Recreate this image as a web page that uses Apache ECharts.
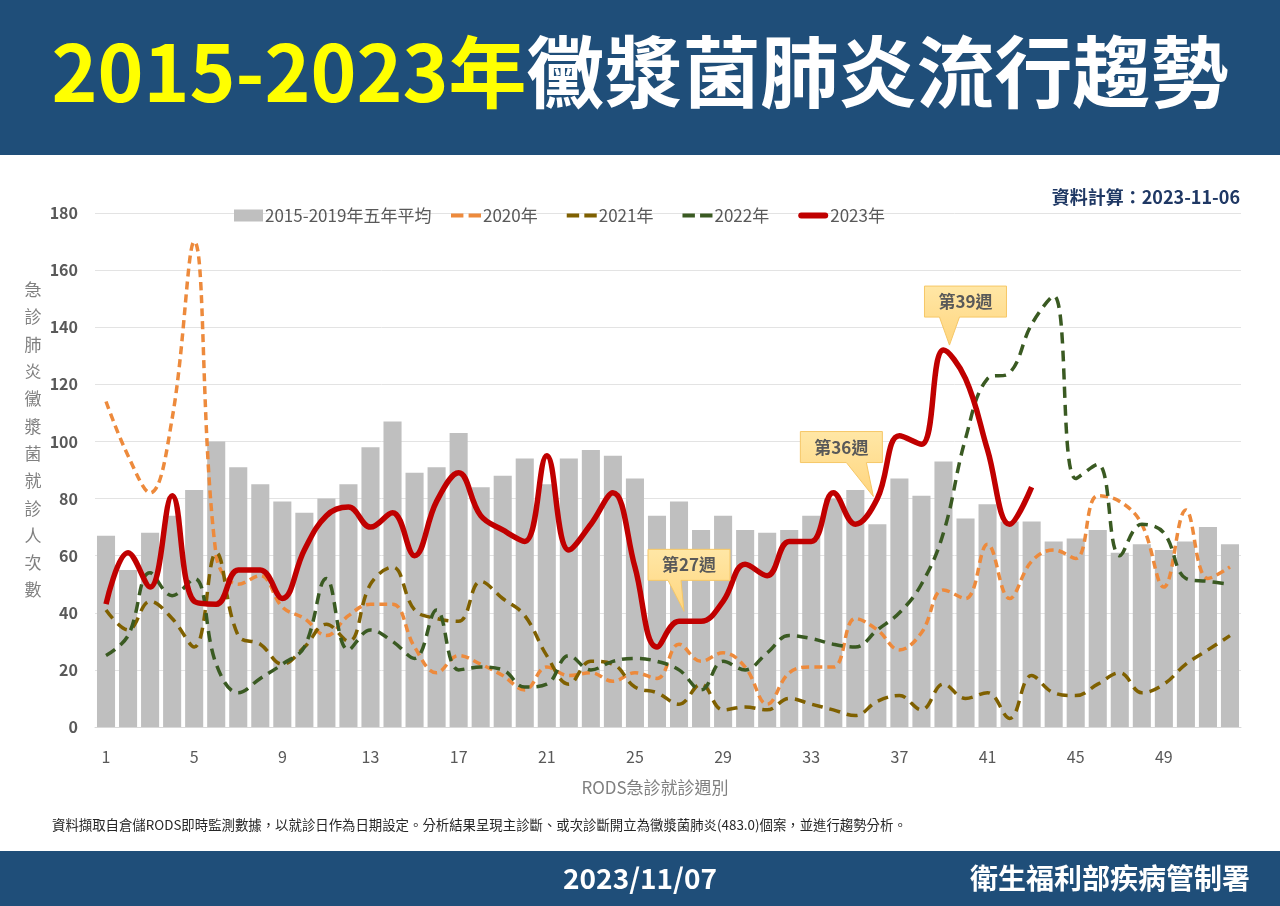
<!DOCTYPE html>
<html>
<head>
<meta charset="utf-8">
<script src="https://cdn.jsdelivr.net/npm/echarts@6/dist/echarts.min.js"></script>
<style>
html,body{margin:0;padding:0;background:#fff;}
#c{width:1280px;height:906px;}
</style>
</head>
<body>
<div id="c"></div>
<script>
// ---- data ----
var weeks = ['1','2','3','4','5','6','7','8','9','10','11','12','13','14','15','16','17','18','19','20','21','22','23','24','25','26','27','28','29','30','31','32','33','34','35','36','37','38','39','40','41','42','43','44','45','46','47','48','49','50','51','52'];
var avg5 = [67,55,68,74,83,100,91,85,79,75,80,85,98,107,89,91,103,84,88,94,85,94,97,95,87,74,79,69,74,69,68,69,74,80,83,71,87,81,93,73,78,72,72,65,66,69,61,64,62,65,70,64];
var y2020 = [114,95,82,108,170,60,50,53,42,38,32,39,43,43,28,19,25,22,18,13,21,18,19,16,19,17,29,23,26,21,8,19,21,21,38,34,27,33,48,45,64,45,58,62,59,81,79,71,49,76,52,56];
var y2021 = [41,34,44,38,28,61,32,29,22,28,36,30,50,56,41,38,37,51,45,39,25,15,23,22,14,12,8,15,6,7,6,10,8,6,4,9,11,6,15,10,12,3,18,12,11,15,19,12,15,22,27,32];
var y2022 = [25,32,54,46,52,22,12,17,22,28,52,27,34,30,24,41,20,21,20,14,15,25,20,23,24,23,20,13,23,20,26,32,31,29,28,34,40,50,68,101,122,124,141,151,87,92,60,71,68,52,51,50];
var y2023 = [43,61,49,81,44,43,55,55,45,62,74,77,70,75,60,79,89,74,69,65,95,62,71,82,56,28,37,37,44,57,53,65,65,82,71,80,102,99,132,122,97,71,84];
var seriesNames = ['2015-2019年五年平均','2020年','2021年','2022年','2023年'];
var yTicks = [0,20,40,60,80,100,120,140,160,180];
var annoWeeks = ['27','36','39'];
var annoLabels = ['第27週','第36週','第39週'];

// ---- style for callouts (pixel offsets, not data) ----
var annoStyle = [
  {dx:5, dy:-10, boxLeft:-36, boxW:82, boxH:31, gap:31, baseL:-16, baseR:-3},
  {dx:-4, dy:-2, boxLeft:-73, boxW:82, boxH:31, gap:34, baseL:-27, baseR:-7},
  {dx:6, dy:-5, boxLeft:-25, boxW:82, boxH:31, gap:28, baseL:-10, baseR:10}
];

var FONT = '"Noto Sans CJK TC","Noto Sans",sans-serif';
var DASH_ICON = 'path://M0,0H12V4H0Z M17,0H29V4H17Z';
var SOLID_ICON = 'path://M3,0H27A3,3 0 0 1 27,6H3A3,3 0 0 1 3,0Z';
var legendText = {color:'#595959', fontSize:17, fontFamily:FONT, padding:[0,0,0,-3]};

var chart = echarts.init(document.getElementById('c'), null, {renderer:'canvas'});

var option = {
  backgroundColor:'#ffffff',
  animation:false,
  textStyle:{fontFamily:FONT},
  title:{
    left:'center', top:28,
    text:'{y|2015-2023年}{w|黴漿菌肺炎流行趨勢}',
    textStyle:{
      rich:{
        y:{color:'#FFFF00', fontSize:78, fontWeight:'bold', fontFamily:FONT},
        w:{color:'#FFFFFF', fontSize:78, fontWeight:'bold', fontFamily:FONT}
      }
    },
    z:10
  },
  legend:[
    {
      left:229, top:202,
      itemWidth:29, itemHeight:12,
      textStyle:legendText,
      data:[{name:seriesNames[0], icon:'rect'}]
    },
    {
      left:446, top:202,
      itemWidth:30, itemHeight:12, itemGap:29,
      symbolKeepAspect:true,
      textStyle:legendText,
      data:[
        {name:seriesNames[1], icon:DASH_ICON},
        {name:seriesNames[2], icon:DASH_ICON},
        {name:seriesNames[3], icon:DASH_ICON},
        {name:seriesNames[4], icon:SOLID_ICON}
      ]
    }
  ],
  grid:{left:95, right:39, top:213, bottom:179, containLabel:false},
  xAxis:{
    type:'category',
    data:weeks,
    boundaryGap:true,
    name:'RODS急診就診週別',
    nameLocation:'middle',
    nameGap:52,
    nameTextStyle:{color:'#808080', fontSize:17, fontFamily:FONT, padding:[0,26,0,0]},
    axisLine:{show:true, lineStyle:{color:'#D9D9D9'}},
    axisTick:{show:false},
    axisLabel:{interval:3, color:'#595959', fontSize:16, margin:22, fontFamily:FONT},
    splitLine:{show:false}
  },
  yAxis:{
    type:'value',
    min:yTicks[0], max:yTicks[yTicks.length-1], interval:20,
    axisLine:{show:false},
    axisTick:{show:false},
    axisLabel:{color:'#595959', fontSize:16, fontWeight:'bold', margin:17, fontFamily:FONT},
    splitLine:{lineStyle:{color:'#E3E3E3', width:1}}
  },
  series:[
    {name:seriesNames[0], type:'bar', data:avg5, barCategoryGap:'18%', itemStyle:{color:'#BFBFBF'}, z:1},
    {name:seriesNames[1], type:'line', data:y2020, smooth:0.4, symbol:'none',
     lineStyle:{color:'#ED8A3C', width:3.5, type:[8,5]}, itemStyle:{color:'#ED8A3C'}, z:3},
    {name:seriesNames[2], type:'line', data:y2021, smooth:0.4, symbol:'none',
     lineStyle:{color:'#7F6000', width:3.5, type:[11,7]}, itemStyle:{color:'#7F6000'}, z:3},
    {name:seriesNames[3], type:'line', data:y2022, smooth:0.4, symbol:'none',
     lineStyle:{color:'#3A5A22', width:3.5, type:[11,7]}, itemStyle:{color:'#3A5A22'}, z:3},
    {name:seriesNames[4], type:'line', data:y2023, smooth:0.4, symbol:'none',
     lineStyle:{color:'#C00000', width:5.5}, itemStyle:{color:'#C00000'}, z:5}
  ]
};
chart.setOption(option);

// ---- decorative graphics, and callouts placed via the chart's own scales ----
var yName = '急診肺炎黴漿菌就診人次數'.split('').join('\n');
var graphics = [
  {type:'rect', left:0, top:0, shape:{width:1280, height:155}, style:{fill:'#1F4E79'}, z:-1, silent:true},
  {type:'rect', left:0, top:851, shape:{width:1280, height:55}, style:{fill:'#1F4E79'}, z:-1, silent:true},
  {type:'text', x:1240, y:197, style:{text:'資料計算：2023-11-06', fill:'#1F3864', font:'bold 18px '+FONT, textAlign:'right', textVerticalAlign:'middle'}},
  {type:'text', x:33, y:276, style:{text:yName, fill:'#808080', font:'17px '+FONT, lineHeight:27.3, textAlign:'center', textVerticalAlign:'top'}},
  {type:'text', x:52, y:825, style:{text:'資料擷取自倉儲RODS即時監測數據，以就診日作為日期設定。分析結果呈現主診斷、或次診斷開立為黴漿菌肺炎(483.0)個案，並進行趨勢分析。', fill:'#262626', font:'13.4px '+FONT, textAlign:'left', textVerticalAlign:'middle'}},
  {type:'text', x:640, y:878, style:{text:'2023/11/07', fill:'#FFFFFF', font:'bold 28px '+FONT, textAlign:'center', textVerticalAlign:'middle'}},
  {type:'text', x:1250, y:878, style:{text:'衛生福利部疾病管制署', fill:'#FFFFFF', font:'bold 28px '+FONT, textAlign:'right', textVerticalAlign:'middle'}}
];

for (var i = 0; i < annoWeeks.length; i++) {
  var idx = weeks.indexOf(annoWeeks[i]);
  var p = chart.convertToPixel({xAxisIndex:0, yAxisIndex:0}, [annoWeeks[i], y2023[idx]]);
  var s = annoStyle[i];
  var tx = p[0] + s.dx, ty = p[1] + s.dy;
  var bl = tx + s.boxLeft, bb = ty - s.gap, bt = bb - s.boxH, br = bl + s.boxW;
  graphics.push({
    type:'polygon', z:20,
    shape:{points:[[bl,bt],[br,bt],[br,bb],[tx+s.baseR,bb],[tx,ty],[tx+s.baseL,bb],[bl,bb]]},
    style:{
      fill:new echarts.graphic.LinearGradient(0,0,0,1,[{offset:0,color:'#FFE7A6'},{offset:1,color:'#FFD57E'}]),
      stroke:'#F6C766', lineWidth:1
    }
  });
  graphics.push({
    type:'text', z:21,
    x:(bl+br)/2, y:(bt+bb)/2,
    style:{text:annoLabels[i], fill:'#595959', font:'bold 17px '+FONT, textAlign:'center', textVerticalAlign:'middle'}
  });
}
chart.setOption({graphic:graphics});
</script>
</body>
</html>
